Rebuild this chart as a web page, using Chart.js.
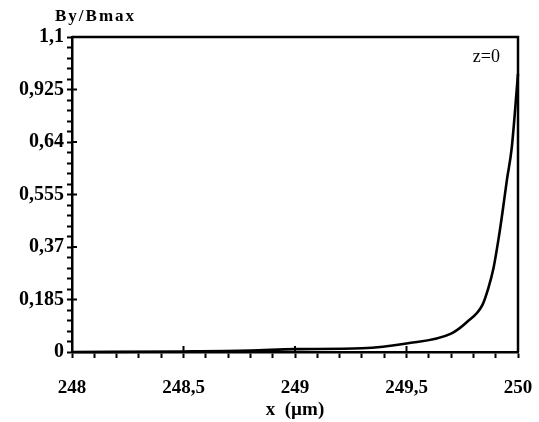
<!DOCTYPE html>
<html>
<head>
<meta charset="utf-8">
<script src="https://cdn.jsdelivr.net/npm/chart.js@4.4.1/dist/chart.umd.min.js"></script>
<style>
  html, body { margin: 0; padding: 0; background: #fff; }
  #wrap { width: 539px; height: 422px; }
</style>
</head>
<body>
<div id="wrap"><canvas id="fieldChart" width="539" height="422"></canvas></div>
<script>
// x position (µm) and normalised field
const xPos   = [248, 248.5, 248.8, 249, 249.3, 249.5, 249.7, 249.77, 249.84, 249.867, 249.89, 249.912, 249.93, 249.95, 249.972, 250];
const byNorm = [0, 0.002, 0.005, 0.01, 0.013, 0.03, 0.065, 0.105, 0.165, 0.225, 0.295, 0.395, 0.49, 0.605, 0.72, 0.98];

// axis ticks (labels are printed as in the original figure)
const xTickValues = [248, 248.5, 249, 249.5, 250];
const xTickLabels = ['248', '248,5', '249', '249,5', '250'];
const yTickValues = [0, 0.185, 0.37, 0.555, 0.74, 0.925, 1.11];
const yTickLabels = ['0', '0,185', '0,37', '0,555', '0,64', '0,925', '1,1'];
const xMinorPerMajor = 5;
const yMinorPerMajor = 5;

const serif = '"Liberation Serif", "DejaVu Serif", serif';

// builds the minor tick values between consecutive major ones
function withMinors(majors, n) {
    const out = [];
    for (let i = 0; i < majors.length - 1; i++) {
        const step = (majors[i + 1] - majors[i]) / n;
        for (let k = 0; k < n; k++) out.push({ value: majors[i] + k * step, major: k === 0, idx: i });
    }
    out.push({ value: majors[majors.length - 1], major: true, idx: majors.length - 1 });
    return out;
}

const frameAndExtras = {
    id: 'frameAndExtras',
    afterDraw(chart) {
        const { ctx, chartArea: a, scales } = chart;
        ctx.save();
        ctx.strokeStyle = '#000';
        ctx.lineWidth = 2.5;
        // top and right edges of the box
        ctx.beginPath();
        ctx.moveTo(a.left, a.top);
        ctx.lineTo(a.right, a.top);
        ctx.lineTo(a.right, a.bottom);
        ctx.stroke();
        // major ticks also poke into the plot area
        ctx.lineWidth = 2;
        ctx.beginPath();
        yTickValues.forEach(v => {
            const py = scales.y.getPixelForValue(v);
            ctx.moveTo(a.left, py);
            ctx.lineTo(a.left + 5, py);
        });
        xTickValues.forEach(v => {
            const px = scales.x.getPixelForValue(v);
            ctx.moveTo(px, a.bottom);
            ctx.lineTo(px, a.bottom - 6);
        });
        ctx.stroke();
        // axis name at top left, and the z label
        ctx.fillStyle = '#000';
        ctx.font = 'bold 17px ' + serif;
        ctx.letterSpacing = '2px';
        ctx.textBaseline = 'alphabetic';
        ctx.textAlign = 'left';
        ctx.fillText('By/Bmax', 55, 21);
        ctx.letterSpacing = '0px';
        ctx.font = '18px ' + serif;
        ctx.textAlign = 'right';
        ctx.fillText('z=0', a.right - 18, a.top + 25);
        ctx.restore();
    }
};

const ctx = document.getElementById('fieldChart').getContext('2d');

new Chart(ctx, {
    type: 'line',
    data: {
        datasets: [{
            data: xPos.map((x, i) => ({ x: x, y: byNorm[i] })),
            borderColor: '#000',
            borderWidth: 2.6,
            pointRadius: 0,
            cubicInterpolationMode: 'monotone',
            fill: false,
            clip: false
        }]
    },
    options: {
        responsive: false,
        animation: false,
        layout: { padding: { top: 37, right: 21, left: 0, bottom: 0 } },
        plugins: {
            legend: { display: false },
            tooltip: { enabled: false }
        },
        scales: {
            x: {
                type: 'linear',
                min: 248,
                max: 250,
                afterFit: (s) => { s.height = 70; s.paddingLeft = 0; s.paddingRight = 0; },
                afterBuildTicks: (s) => { s.ticks = withMinors(xTickValues, xMinorPerMajor).map(t => ({ value: t.value, major: t.major, idx: t.idx })); },
                ticks: {
                    autoSkip: false,
                    maxRotation: 0,
                    padding: 19,
                    color: '#000',
                    font: { family: serif, size: 19, weight: 'bold' },
                    callback: function (value, index, ticks) {
                        const t = ticks[index];
                        return t.major ? xTickLabels[t.idx] : '';
                    }
                },
                grid: { drawOnChartArea: false, drawTicks: true, tickLength: 6, tickColor: '#000', tickWidth: 2 },
                border: { display: true, color: '#000', width: 2.5 },
                title: {
                    display: true,
                    text: 'x  (µm)',
                    color: '#000',
                    font: { family: serif, size: 19, weight: 'bold' },
                    padding: { top: 0, bottom: 1 }
                }
            },
            y: {
                type: 'linear',
                min: 0,
                max: 1.11,
                afterFit: (s) => { s.width = 72; s.paddingTop = 0; s.paddingBottom = 0; },
                afterBuildTicks: (s) => { s.ticks = withMinors(yTickValues, yMinorPerMajor).map(t => ({ value: t.value, major: t.major, idx: t.idx })); },
                ticks: {
                    autoSkip: false,
                    padding: 3,
                    color: '#000',
                    font: { family: serif, size: 20, weight: 'bold' },
                    callback: function (value, index, ticks) {
                        const t = ticks[index];
                        return t.major ? yTickLabels[t.idx] : '';
                    }
                },
                grid: { drawOnChartArea: false, drawTicks: true, tickLength: 5, tickColor: '#000', tickWidth: 2 },
                border: { display: true, color: '#000', width: 2.5 }
            }
        }
    },
    plugins: [frameAndExtras]
});
</script>
</body>
</html>
